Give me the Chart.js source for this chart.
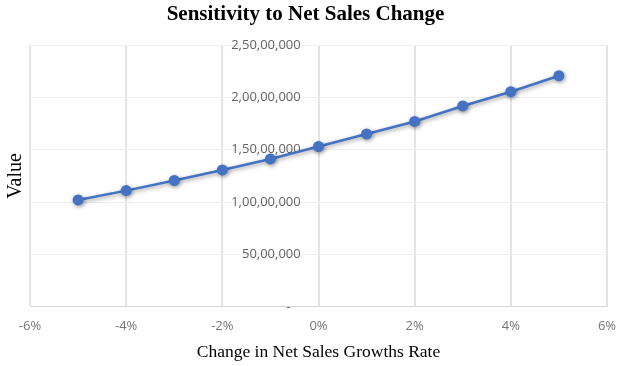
<!DOCTYPE html>
<html>
<head>
<meta charset="utf-8">
<script src="https://cdn.jsdelivr.net/npm/chart.js@4/dist/chart.umd.min.js"></script>
<style>
    html, body { margin: 0; padding: 0; background: #fff; }
    #wrap { width: 621px; height: 366px; }
</style>
</head>
<body>
<div id="wrap"><canvas id="SensitivityChart"></canvas></div>
<script>
    // growth rate change, in percent
    var growthRates = [-5, -4, -3, -2, -1, 0, 1, 2, 3, 4, 5];
    // value at each rate
    var values = [10210000, 11100000, 12070000, 13070000, 14120000, 15310000, 16510000, 17700000, 19180000, 20540000, 22070000];

    var xTicks = [-6, -4, -2, 0, 2, 4, 6];
    var yTicks = [0, 5000000, 10000000, 15000000, 20000000, 25000000];

    // indian grouping: 2,50,00,000
    var formatIndian = function (n) {
        if (n === 0) {
            return '-   ';
        }
        var s = String(Math.round(n));
        var last3 = s.slice(-3);
        var rest = s.slice(0, -3);
        if (rest) {
            rest = rest.replace(/\B(?=(\d{2})+(?!\d))/g, ',');
            return rest + ',' + last3;
        }
        return last3;
    };

    var points = [];
    for (var i = 0; i < growthRates.length; i++) {
        points.push({ x: growthRates[i] / 100, y: values[i] });
    }

    var markerShadow = {
        id: 'markerShadow',
        beforeDatasetsDraw: function (chart) {
            var ctx = chart.ctx;
            ctx.save();
            ctx.shadowColor = 'rgba(0,0,0,0.4)';
            ctx.shadowBlur = 4;
            ctx.shadowOffsetX = 1;
            ctx.shadowOffsetY = 1.5;
        },
        afterDatasetsDraw: function (chart) {
            chart.ctx.restore();
        }
    };

    var tickFont = { family: '"Open Sans", sans-serif', size: 13 };
    var serif = '"Liberation Serif", "Times New Roman", serif';

    new Chart(document.getElementById('SensitivityChart'), {
        type: 'scatter',
        data: {
            datasets: [{
                label: 'Value',
                data: points,
                showLine: true,
                borderColor: '#4472c4',
                backgroundColor: '#4472c4',
                borderWidth: 2.5,
                pointRadius: 5.5,
                pointHoverRadius: 5.5,
                pointBorderWidth: 0
            }]
        },
        options: {
            responsive: true,
            maintainAspectRatio: false,
            animation: false,
            layout: { padding: { left: 4, right: 14, top: 0, bottom: 0 } },
            plugins: {
                legend: { display: false },
                tooltip: { enabled: false },
                title: {
                    display: true,
                    text: 'Sensitivity to Net Sales Change',
                    color: '#000',
                    font: { family: serif, size: 21, weight: 'bold', lineHeight: 1.2 },
                    padding: { top: 2, bottom: 17.8 }
                }
            },
            scales: {
                x: {
                    type: 'linear',
                    min: xTicks[0] / 100,
                    max: xTicks[xTicks.length - 1] / 100,
                    afterBuildTicks: function (axis) {
                        axis.ticks = xTicks.map(function (v) { return { value: v / 100 }; });
                    },
                    // the tick padding would otherwise push the plot in from the right
                    afterFit: function (axis) {
                        axis.paddingRight = 0;
                    },
                    ticks: {
                        color: '#767676',
                        font: tickFont,
                        padding: 12,
                        callback: function (v) { return Math.round(v * 100) + '%'; }
                    },
                    grid: { color: '#e4e4e4', lineWidth: 2, drawTicks: false },
                    border: { display: true, color: '#d6d6d6', width: 1 },
                    title: {
                        display: true,
                        text: 'Change in Net Sales Growths Rate',
                        color: '#000',
                        font: { family: serif, size: 17.5, lineHeight: 1.2 },
                        padding: { top: -5, bottom: 3.5 }
                    }
                },
                y: {
                    type: 'linear',
                    // labels sit a little left of the 0% line
                    position: { x: -0.0037 },
                    min: yTicks[0],
                    max: yTicks[yTicks.length - 1],
                    afterBuildTicks: function (axis) {
                        axis.ticks = yTicks.map(function (v) { return { value: v }; });
                    },
                    ticks: {
                        color: '#636363',
                        font: tickFont,
                        padding: 0,
                        callback: function (v) { return formatIndian(v); }
                    },
                    grid: { color: '#efefef', lineWidth: 1, drawTicks: false },
                    border: { display: false }
                },
                yTitle: {
                    type: 'linear',
                    position: 'left',
                    display: true,
                    ticks: { display: false },
                    grid: { display: false, drawTicks: false, tickLength: 0 },
                    border: { display: false },
                    title: {
                        display: true,
                        text: 'Value',
                        color: '#000',
                        font: { family: serif, size: 20, lineHeight: 1.2 },
                        padding: { top: 0, bottom: 2 }
                    }
                }
            }
        },
        plugins: [markerShadow]
    });
</script>
</body>
</html>
